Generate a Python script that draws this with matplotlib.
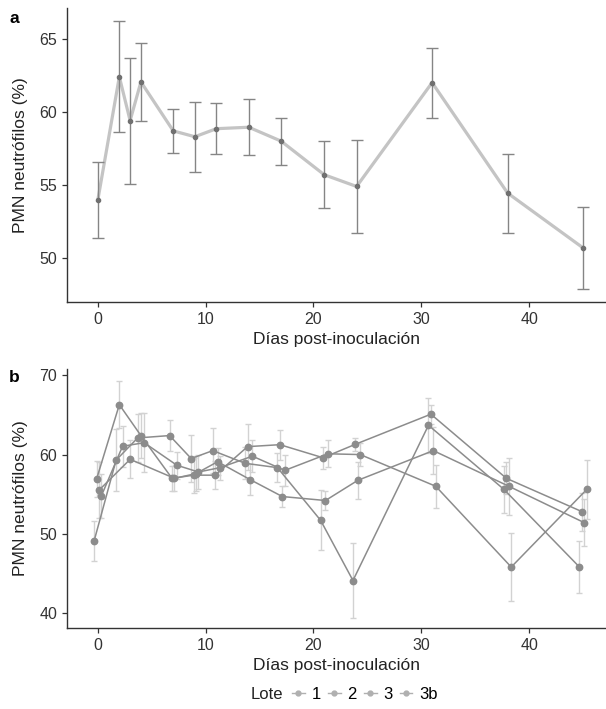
import matplotlib
matplotlib.use("Agg")
import matplotlib.pyplot as plt
from matplotlib.lines import Line2D

plt.rcParams['font.family'] = ['Liberation Sans', 'DejaVu Sans']

# panel a: all lots pooled
days_a = [0, 2, 3, 4, 7, 9, 11, 14, 17, 21, 24, 31, 38, 45]
mean_a = [53.95, 62.4, 59.4, 62.05, 58.7, 58.3, 58.85, 58.95, 58.0, 55.7, 54.9, 62.0, 54.45, 50.7]
err_a = [2.6, 3.8, 4.3, 2.65, 1.5, 2.4, 1.75, 1.9, 1.6, 2.3, 3.2, 2.4, 2.7, 2.8]

# panel b: per lot
lotes = ["1", "2", "3", "3b"]
days_1 = [0, 2, 4, 7, 9, 11, 14, 17, 21, 24, 31, 38, 45]
vals_1 = [49.1, 59.3, 62.1, 62.4, 59.5, 60.5, 58.9, 58.35, 51.7, 44.1, 63.7, 55.6, 45.8]
errs_1 = [2.5, 3.9, 3.0, 2.0, 3.0, 2.8, 2.0, 1.8, 3.8, 4.7, 3.5, 3.0, 3.3]
days_2 = [0, 2, 4, 7, 9, 11, 14, 17, 21, 24, 31, 38, 45]
vals_2 = [56.9, 66.3, 62.4, 57.0, 57.4, 57.4, 61.0, 61.25, 59.6, 61.3, 65.1, 57.0, 52.8]
errs_2 = [2.3, 3.0, 2.8, 1.6, 2.2, 1.8, 2.9, 1.9, 1.4, 0.8, 1.2, 2.0, 2.4]
days_3 = [0, 3, 7, 9, 11, 14, 17, 21, 24, 31, 38, 45]
vals_3 = [55.5, 59.4, 57.0, 57.6, 59.1, 56.85, 54.7, 54.2, 56.75, 60.5, 56.0, 51.4]
errs_3 = [3.5, 2.4, 1.6, 2.2, 1.7, 2.0, 1.3, 1.2, 2.3, 3.0, 3.6, 3.0]
days_3b = [0, 2, 4, 7, 9, 11, 14, 17, 21, 24, 31, 38, 45]
vals_3b = [54.8, 61.05, 61.5, 58.65, 57.8, 58.35, 59.8, 58.0, 60.1, 60.0, 56.0, 45.8, 55.6]
errs_3b = [2.8, 2.6, 3.7, 1.7, 2.2, 1.5, 2.0, 2.0, 1.7, 1.5, 2.7, 4.3, 3.7]

series = [(days_1, vals_1, errs_1), (days_2, vals_2, errs_2),
          (days_3, vals_3, errs_3), (days_3b, vals_3b, errs_3b)]

# dodge like ggplot: split width among the lots present on each day
dodge_w = 0.9
dodged = []
for i, (d, v, e) in enumerate(series):
    xs = []
    for day in d:
        present = [j for j, s in enumerate(series) if day in s[0]]
        n = len(present)
        k = present.index(i)
        xs.append(day - dodge_w / 2 + (k + 0.5) * dodge_w / n)
    dodged.append(xs)

fig = plt.figure(figsize=(6.06, 7.09), dpi=100)
ax_a = fig.add_axes([0.1106, 0.574, 0.889, 0.4147])
ax_b = fig.add_axes([0.1106, 0.1142, 0.889, 0.3653])

def style(ax):
    for s in ["top", "right"]:
        ax.spines[s].set_visible(False)
    for s in ["left", "bottom"]:
        ax.spines[s].set_color("#333333")
        ax.spines[s].set_linewidth(1.0)
    ax.tick_params(colors="#333333", labelsize=11.5, length=3.5, width=0.9)
    ax.tick_params(labelcolor="#333333")
    ax.set_xlim(-2.85, 47.1)
    ax.set_xticks([0, 10, 20, 30, 40])
    ax.set_xlabel("Días post-inoculación", fontsize=12.5, color="#222222", labelpad=4)
    ax.set_ylabel("PMN neutrófilos (%)", fontsize=12.5, color="#222222", labelpad=8)

# panel a
ax_a.plot(days_a, mean_a, color="#c4c4c4", lw=2.3, zorder=2)
ax_a.errorbar(days_a, mean_a, yerr=err_a, fmt="none", ecolor="#858585",
              elinewidth=1.0, capsize=4.3, capthick=1.0, zorder=3)
ax_a.plot(days_a, mean_a, "o", color="#707070", ms=3, zorder=4)
ax_a.set_ylim(47.0, 67.1)
ax_a.set_yticks([50, 55, 60, 65])
style(ax_a)

# panel b
for xs, (d, v, e) in zip(dodged, series):
    ax_b.errorbar(xs, v, yerr=e, fmt="none", ecolor="#d2d2d2",
                  elinewidth=1.0, capsize=2.5, capthick=1.0, zorder=1)
for xs, (d, v, e) in zip(dodged, series):
    ax_b.plot(xs, v, "-o", color="#8c8c8c", lw=1.1, ms=4.6, zorder=3)
ax_b.set_ylim(38.1, 70.8)
ax_b.set_yticks([40, 50, 60, 70])
style(ax_b)

fig.text(0.015, 0.985, "a", fontsize=12.5, fontweight="bold", va="top")
fig.text(0.015, 0.478, "b", fontsize=12.5, fontweight="bold", va="top")

# legend at the bottom
handles = [Line2D([0], [0], color="#b0b0b0", lw=1.0, marker="o", ms=3.5) for _ in lotes]
fig.text(0.413, 0.02, "Lote", fontsize=12, color="#222222", va="center")
fig.legend(handles, lotes, loc="center left", bbox_to_anchor=(0.482, 0.02),
           ncol=4, frameon=False, fontsize=12, handlelength=0.75,
           handletextpad=0.4, columnspacing=0.45, borderpad=0, borderaxespad=0)

fig.savefig("out.png", dpi=100)
